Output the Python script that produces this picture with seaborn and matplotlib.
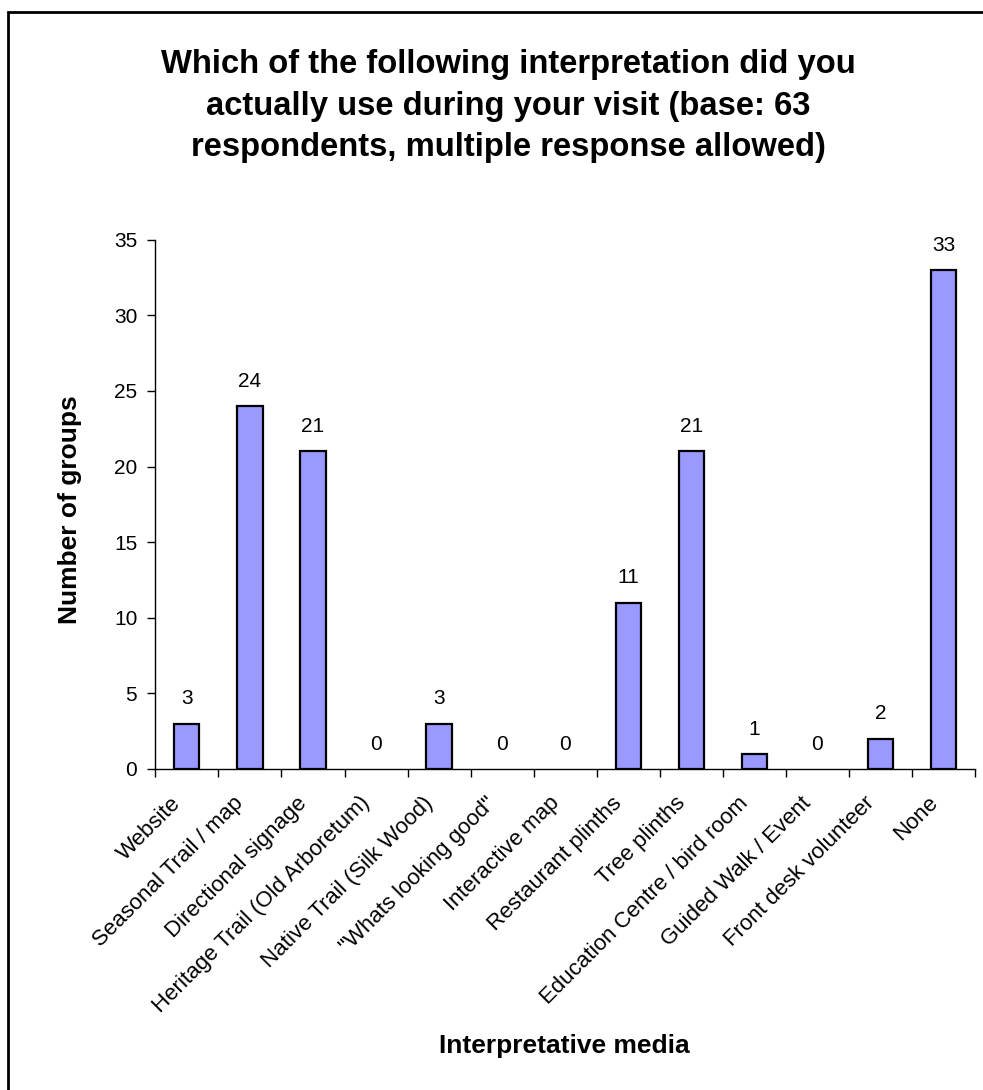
import matplotlib
matplotlib.use("Agg")
import matplotlib.pyplot as plt
import matplotlib.transforms as mtransforms
import seaborn as sns
import pandas as pd
from matplotlib.patches import Rectangle

# Veriler
categories = ["Website", "Seasonal Trail / map", "Directional signage",
              "Heritage Trail (Old Arboretum)", "Native Trail (Silk Wood)",
              "\"Whats looking good\"", "Interactive map", "Restaurant plinths",
              "Tree plinths", "Education Centre / bird room", "Guided Walk / Event",
              "Front desk volunteer", "None"]
counts = [3, 24, 21, 0, 3, 0, 0, 11, 21, 1, 0, 2, 33]
y_ticks = [0, 5, 10, 15, 20, 25, 30, 35]

title = ("Which of the following interpretation did you\n"
         "actually use during your visit (base: 63\n"
         "respondents, multiple response allowed)")

df = pd.DataFrame({"media": categories, "groups": counts})

sns.set_style("white")
plt.rcParams["font.family"] = ["Liberation Sans", "DejaVu Sans"]
for key in ["text.color", "axes.labelcolor", "xtick.color", "ytick.color"]:
    plt.rcParams[key] = "black"

fig = plt.figure(figsize=(9.83, 10.90), dpi=100)
ax = fig.add_axes([0.158, 0.2945, 0.834, 0.4855])

sns.barplot(data=df, x="media", y="groups", color="#9999FF", saturation=1,
            edgecolor="black", linewidth=1.6, width=0.4, ax=ax)

# Sifir degerli cubuklar gorunmesin
for patch, v in zip(ax.patches, counts):
    if v == 0:
        patch.set_visible(False)

ax.set_xlim(-0.5, len(categories) - 0.5)
ax.set_ylim(0, 35)
ax.set_yticks(y_ticks)
ax.tick_params(axis="y", direction="out", length=6, width=1, labelsize=15,
               left=True, pad=7)

# Etiketler kategori ortasinda, tik cizgileri sinirlarda
ax.set_xticks(range(len(categories)))
ax.set_xticklabels(categories, rotation=45, ha="right", rotation_mode="anchor",
                   fontsize=16)
ax.tick_params(axis="x", which="major", length=0, pad=17)
ax.set_xticks([i - 0.5 for i in range(len(categories) + 1)], minor=True)
ax.tick_params(axis="x", which="minor", direction="out", length=6, width=1,
               bottom=True)
shift = mtransforms.ScaledTranslation(-12 / 72, 0, fig.dpi_scale_trans)
for lbl in ax.get_xticklabels():
    lbl.set_transform(lbl.get_transform() + shift)

for side in ["top", "right"]:
    ax.spines[side].set_visible(False)
for side in ["left", "bottom"]:
    ax.spines[side].set_color("black")
    ax.spines[side].set_linewidth(1)

# Deger etiketleri
for i, v in enumerate(counts):
    ax.annotate(str(v), (i, v), xytext=(0, 11), textcoords="offset points",
                ha="center", va="bottom", fontsize=15)

ax.set_xlabel("Interpretative media", fontsize=19, fontweight="bold")
ax.xaxis.label.set_va("center")
ax.xaxis.set_label_coords(0.499, -0.524)
ax.set_ylabel("Number of groups", fontsize=19, fontweight="bold")
ax.yaxis.label.set_va("center")
ax.yaxis.set_label_coords(-0.104, 0.49)

fig.text(0.517, 1 - 106 / 1090, title, ha="center", va="center", fontsize=23.6,
         fontweight="bold", linespacing=1.45)

# Cerceve
fig.patches.append(Rectangle((8 / 983, -0.01), 1.02, 1 - 12 / 1090 + 0.01,
                             transform=fig.transFigure, fill=False,
                             edgecolor="black", linewidth=2))

fig.savefig("out.png", dpi=100)
plt.close()
